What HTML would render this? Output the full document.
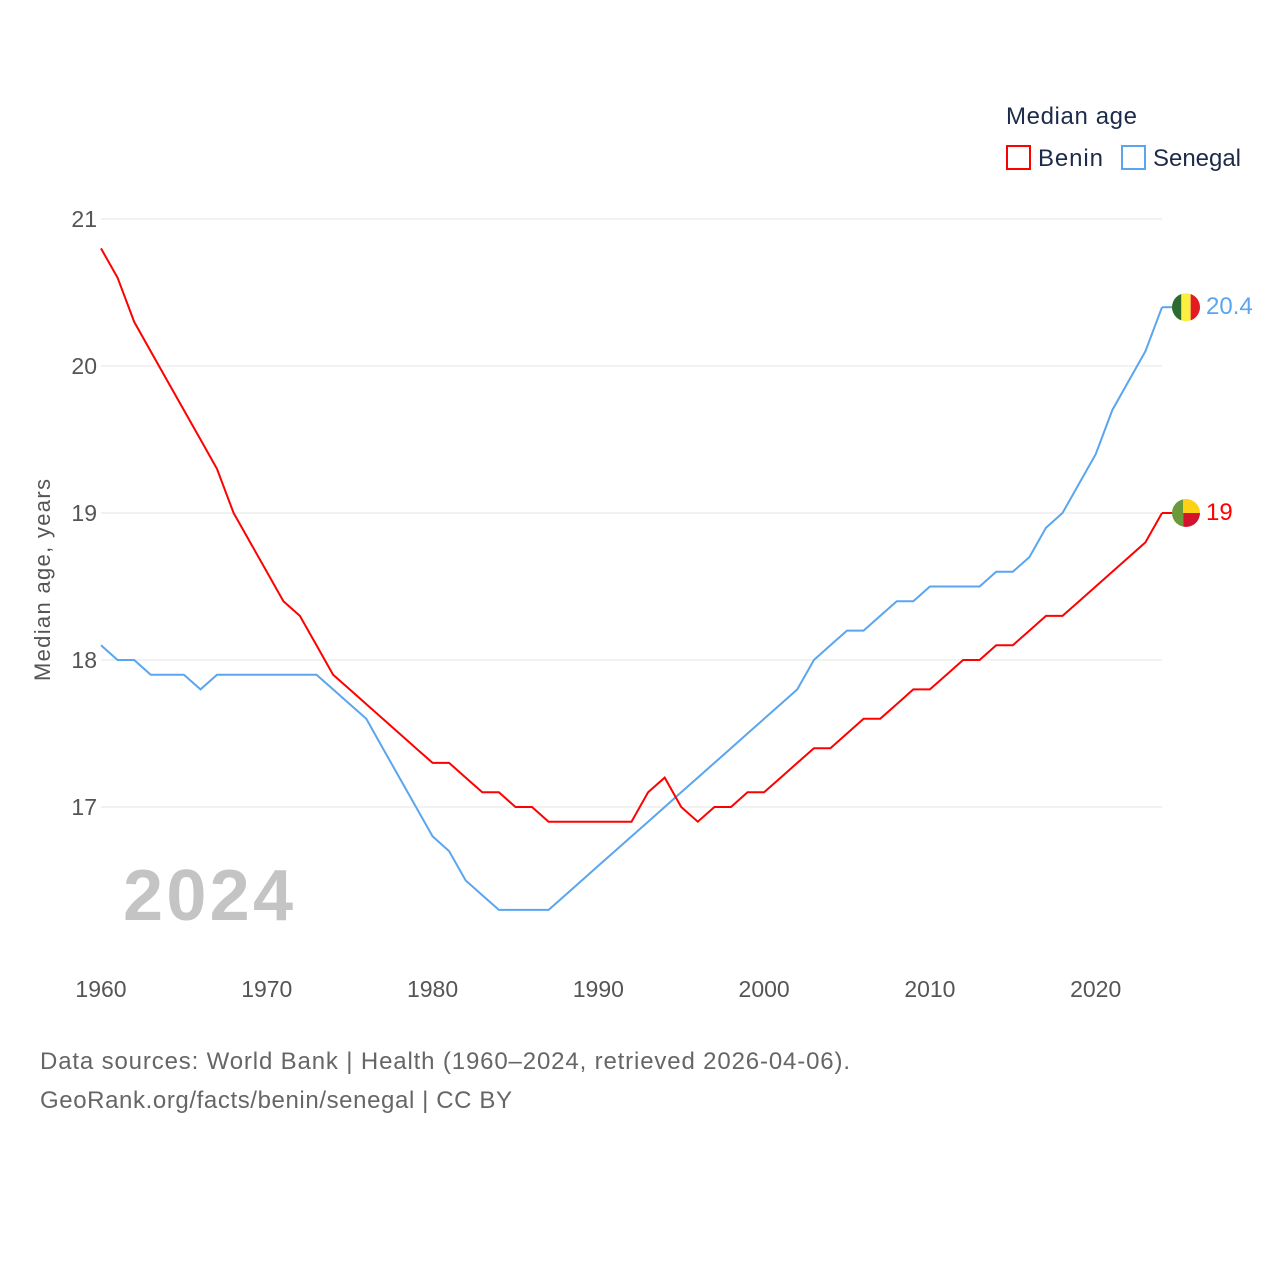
<!DOCTYPE html>
<html><head><meta charset="utf-8"><style>
body{margin:0;background:#fff;font-family:"Liberation Sans",sans-serif}
svg text{font-family:"Liberation Sans",sans-serif}
</style></head><body>
<svg id="chart" width="1280" height="1280">
<text x="1006" y="124" font-size="24" fill="#1d2b4a" textLength="131">Median age</text>
<g><rect x="1007" y="146" width="23" height="23" fill="none" stroke="#f00" stroke-width="2"/><text x="1038" y="166" font-size="24" fill="#1d2b4a" textLength="65">Benin</text></g>
<g><rect x="1122" y="146" width="23" height="23" fill="none" stroke="#5aa5ee" stroke-width="2"/><text x="1153" y="166" font-size="24" fill="#1d2b4a" textLength="88">Senegal</text></g>
<g id="grid"></g>
<text x="123" y="920" font-size="72" font-weight="bold" fill="#c4c4c4" textLength="170">2024</text>
<text transform="translate(50,580) rotate(-90)" text-anchor="middle" font-size="22" fill="#555" textLength="202">Median age, years</text>
<g id="series"></g>
<text x="40" y="1069" font-size="24" fill="#666" textLength="810">Data sources: World Bank | Health (1960–2024, retrieved 2026-04-06).</text>
<text x="40" y="1108" font-size="24" fill="#666" textLength="472">GeoRank.org/facts/benin/senegal | CC BY</text>
</svg>
<script>
const years=[];for(let y=1960;y<=2024;y++)years.push(y);
const benin=[20.8,20.6,20.3,20.1,19.9,19.7,19.5,19.3,19.0,18.8,18.6,18.4,18.3,18.1,17.9,17.8,17.7,17.6,17.5,17.4,17.3,17.3,17.2,17.1,17.1,17.0,17.0,16.9,16.9,16.9,16.9,16.9,16.9,17.1,17.2,17.0,16.9,17.0,17.0,17.1,17.1,17.2,17.3,17.4,17.4,17.5,17.6,17.6,17.7,17.8,17.8,17.9,18.0,18.0,18.1,18.1,18.2,18.3,18.3,18.4,18.5,18.6,18.7,18.8,19.0];
const senegal=[18.1,18.0,18.0,17.9,17.9,17.9,17.8,17.9,17.9,17.9,17.9,17.9,17.9,17.9,17.8,17.7,17.6,17.4,17.2,17.0,16.8,16.7,16.5,16.4,16.3,16.3,16.3,16.3,16.4,16.5,16.6,16.7,16.8,16.9,17.0,17.1,17.2,17.3,17.4,17.5,17.6,17.7,17.8,18.0,18.1,18.2,18.2,18.3,18.4,18.4,18.5,18.5,18.5,18.5,18.6,18.6,18.7,18.9,19.0,19.2,19.4,19.7,19.9,20.1,20.4];
const yTicks=[17,18,19,20,21];
const xTicks=[1960,1970,1980,1990,2000,2010,2020];
const NS='http://www.w3.org/2000/svg';
const X=y=>101+(y-1960)*(1061/64);
const Y=v=>807-(v-17)*147;
const grid=document.getElementById('grid'),ser=document.getElementById('series');
function mk(tag,attrs,parent){const e=document.createElementNS(NS,tag);for(const k in attrs)e.setAttribute(k,attrs[k]);parent.appendChild(e);return e;}
yTicks.forEach(t=>{
 const l=mk('line',{x1:101,x2:1162,y1:Y(t),y2:Y(t),stroke:'#e6e6e6','stroke-width':1},grid);
 
 
 const tx=mk('text',{x:97,y:Y(t)+8,'text-anchor':'end','font-size':23,fill:'#555'},grid);tx.textContent=t;
 
 
});
xTicks.forEach(t=>{
 const tx=mk('text',{x:X(t),y:997,'text-anchor':'middle','font-size':23,fill:'#555'},grid);tx.textContent=t;
 
 
});
function line(vals,color,name){
 const p=mk('path',{d:vals.map((v,i)=>(i?'L':'M')+X(years[i]).toFixed(1)+','+Y(v).toFixed(1)).join(''),fill:'none',stroke:color,'stroke-width':2},ser);
 
 
}
line(senegal,'#5aa5ee','senegal-line');
line(benin,'#f00','benin-line');
function endLabel(vals,color,name,flag){
 const v=vals[vals.length-1],x=X(2024),y=Y(v);
 mk('line',{x1:x,x2:x+12,y1:y,y2:y,stroke:color,'stroke-width':2},ser);
 const g=mk('g',{},ser);
 
 
 const cx=x+24,r=14;
 mk('clipPath',{id:'c'+name},g).appendChild(document.createElementNS(NS,'circle'));
 g.querySelector('circle').setAttribute('cx',cx);g.querySelector('circle').setAttribute('cy',y);g.querySelector('circle').setAttribute('r',r);
 const cg=mk('g',{'clip-path':'url(#c'+name+')'},g);
 flag.forEach(f=>mk('rect',{x:cx-r+f[0]*2*r,y:y-r+f[1]*2*r,width:f[2]*2*r,height:f[3]*2*r,fill:f[4]},cg));
 const t=mk('text',{x:cx+20,y:y+7,'font-size':24,fill:color},ser);t.textContent=v;
 
 
}
endLabel(senegal,'#5aa5ee','senegal',[[0,0,1/3,1,'#2c6b2f'],[1/3,0,1/3,1,'#fdef42'],[2/3,0,1/3,1,'#e31b23']]);
endLabel(benin,'#f00','benin',[[0,0,0.4,1,'#6a9a3a'],[0.4,0,0.6,0.5,'#fcd116'],[0.4,0.5,0.6,0.5,'#d4122d']]);
</script>
</body></html>
